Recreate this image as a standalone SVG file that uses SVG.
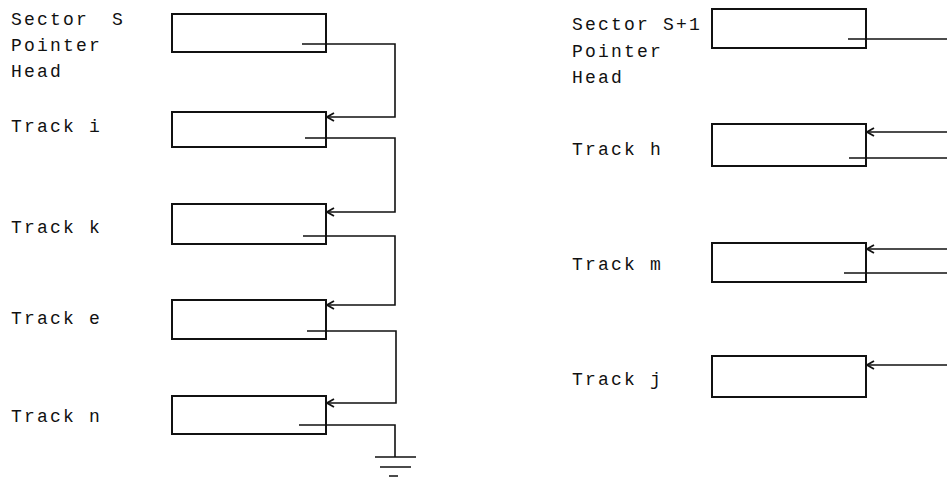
<svg xmlns="http://www.w3.org/2000/svg" width="947" height="477" viewBox="0 0 947 477">
<defs>
<style>
text{font-family:"Liberation Mono","DejaVu Sans Mono",monospace;font-size:18px;letter-spacing:2.2px;fill:#111}
.box{fill:none;stroke:#111;stroke-width:2}
.ln{fill:none;stroke:#111;stroke-width:1.6}
</style>
<marker id="ah" viewBox="0 0 10 10" refX="9" refY="5" markerWidth="10" markerHeight="10" markerUnits="userSpaceOnUse" orient="auto">
<path d="M2,1 L9,5 L2,9" fill="none" stroke="#111" stroke-width="1.8"/>
</marker>
</defs>
<rect width="947" height="477" fill="#fff"/>
<g id="sectorS">
<text x="11" y="25">Sector <tspan x="112">S</tspan></text>
<text x="11" y="51">Pointer</text>
<text x="11" y="77">Head</text>
<rect class="box" x="172" y="14" width="154" height="38"/>
</g>
<g id="trackI">
<text x="11" y="132">Track i</text>
<rect class="box" x="172" y="112" width="154" height="35"/>
</g>
<g id="trackK">
<text x="11" y="233">Track k</text>
<rect class="box" x="172" y="204" width="154" height="40"/>
</g>
<g id="trackE">
<text x="11" y="324">Track e</text>
<rect class="box" x="172" y="300" width="154" height="39"/>
</g>
<g id="trackN">
<text x="11" y="422">Track n</text>
<rect class="box" x="172" y="396" width="154" height="38"/>
</g>
<g id="sectorS1">
<text x="572" y="30">Sector S+1</text>
<text x="572" y="57">Pointer</text>
<text x="572" y="83">Head</text>
<rect class="box" x="712" y="9" width="154" height="39"/>
</g>
<g id="trackH">
<text x="572" y="155">Track h</text>
<rect class="box" x="712" y="124" width="154" height="42"/>
</g>
<g id="trackM">
<text x="572" y="270">Track m</text>
<rect class="box" x="712" y="243" width="154" height="39"/>
</g>
<g id="trackJ">
<text x="572" y="385">Track j</text>
<rect class="box" x="712" y="356" width="154" height="41"/>
</g>
<g id="connectors">
<path class="ln" d="M302,44 H395 V117 H327" marker-end="url(#ah)"/>
<path class="ln" d="M305,138 H395 V212 H327" marker-end="url(#ah)"/>
<path class="ln" d="M303,236 H395 V305 H327" marker-end="url(#ah)"/>
<path class="ln" d="M307,331 H396 V403 H327" marker-end="url(#ah)"/>
<path class="ln" d="M299,425 H395 V457"/>
<path class="ln" d="M375,457 H416 M380,467 H411 M389,476 H398"/>
<path class="ln" d="M848,39 H947"/>
<path class="ln" d="M947,132 H867" marker-end="url(#ah)"/>
<path class="ln" d="M849,158 H947"/>
<path class="ln" d="M947,249 H867" marker-end="url(#ah)"/>
<path class="ln" d="M844,273 H947"/>
<path class="ln" d="M947,365 H867" marker-end="url(#ah)"/>
</g>
</svg>
